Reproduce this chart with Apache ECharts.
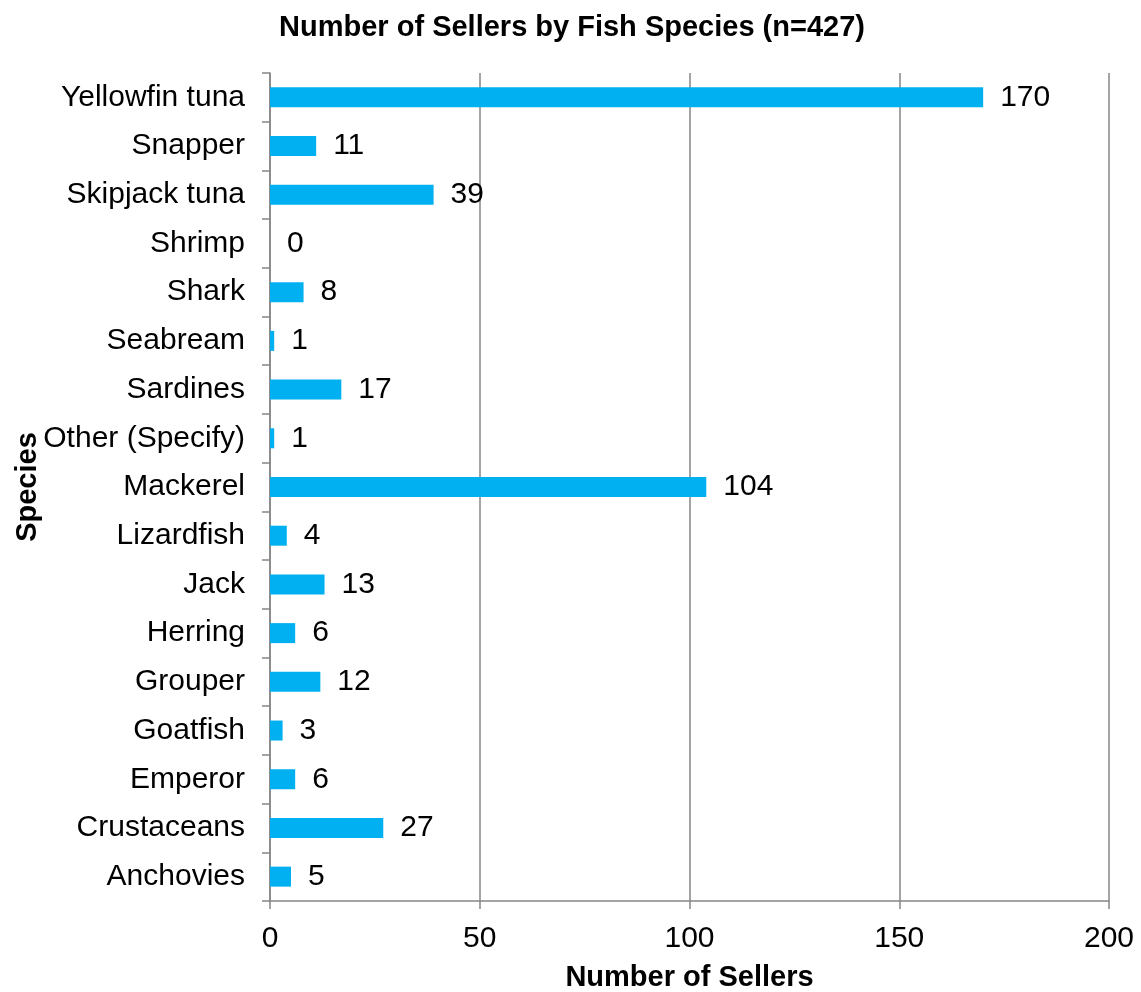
<!DOCTYPE html>
<html>
<head>
<meta charset="utf-8">
<script src="https://cdn.jsdelivr.net/npm/echarts@6/dist/echarts.min.js"></script>
<style>html,body{margin:0;padding:0;background:#fff}#c{width:1141px;height:992px}</style>
</head>
<body>
<div id="c"></div>
<script>
const categories = ["Yellowfin tuna","Snapper","Skipjack tuna","Shrimp","Shark","Seabream","Sardines","Other (Specify)","Mackerel","Lizardfish","Jack","Herring","Grouper","Goatfish","Emperor","Crustaceans","Anchovies"];
const sellers = [170,11,39,0,8,1,17,1,104,4,13,6,12,3,6,27,5];
const xTicks = [0,50,100,150,200];

const chart = echarts.init(document.getElementById('c'));
const font = 'Liberation Sans, Arial, sans-serif';
chart.setOption({
  animation: false,
  title: {
    text: 'Number of Sellers by Fish Species (n=427)',
    left: 567, top: 8, textAlign: 'center',
    textStyle: {fontFamily: font, fontSize: 29, fontWeight: 'bold', color: '#000'}
  },
  grid: {left: 270, right: 32, top: 73, bottom: 91, containLabel: false, outerBoundsMode: 'none'},
  xAxis: {
    type: 'value', min: xTicks[0], max: xTicks[xTicks.length-1], interval: 50,
    name: 'Number of Sellers', nameLocation: 'middle', nameGap: 62, nameMoveOverlap: false,
    nameTextStyle: {fontFamily: font, fontSize: 29, fontWeight: 'bold', color: '#000'},
    axisLine: {show: true, lineStyle: {color: '#868686', width: 1.5}},
    axisTick: {show: true, length: 8, lineStyle: {color: '#868686', width: 1.5}},
    axisLabel: {fontFamily: font, fontSize: 30, color: '#000', margin: 23},
    splitLine: {show: true, lineStyle: {color: '#868686', width: 1.5}}
  },
  yAxis: {
    type: 'category', data: categories, inverse: true,
    name: 'Species', nameLocation: 'middle', nameGap: 228, nameRotate: 90, nameMoveOverlap: false,
    nameTextStyle: {fontFamily: font, fontSize: 29, fontWeight: 'bold', color: '#000'},
    axisLine: {show: true, lineStyle: {color: '#868686', width: 1.5}},
    axisTick: {show: true, length: 8, alignWithLabel: false, lineStyle: {color: '#868686', width: 1.5}},
    axisLabel: {fontFamily: font, fontSize: 30, color: '#000', margin: 25},
    splitLine: {show: false}
  },
  series: [{
    type: 'bar', data: sellers, barWidth: 20,
    itemStyle: {color: '#00B0F0'},
    label: {show: true, position: 'right', distance: 17, fontFamily: font, fontSize: 30, color: '#000'}
  }]
});
</script>
</body>
</html>
